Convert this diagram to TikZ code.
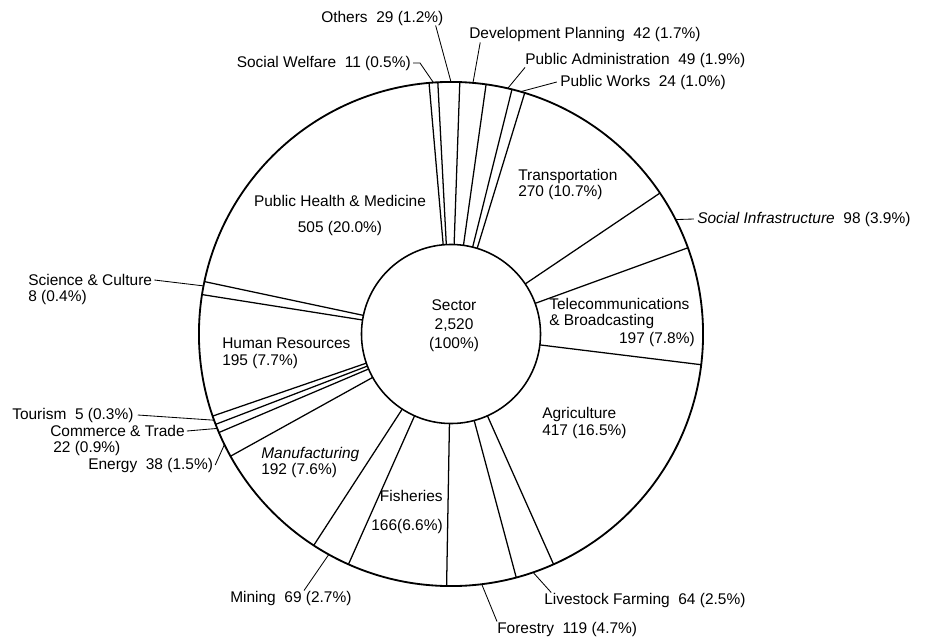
\documentclass[tikz,border=0pt]{standalone}
\usepackage{fontspec}
\setmainfont{Liberation Sans}
\usepackage{tikz}
\tikzstyle{rimCircle} = [circle, draw, line width=1.3pt, minimum size=12.6cm,
inner sep=0pt, outer sep=0pt]
\tikzstyle{hubCircle} = [circle, draw, line width=1.1pt, minimum size=4.475cm,
inner sep=0pt, outer sep=0pt]
\tikzstyle{sectorText} = [inner sep=0pt, anchor=west, align=left, font=\fontsize{11}{12}\selectfont]
\tikzstyle{divider} = [draw, line width=0.9pt]
\tikzstyle{leader} = [draw, line width=0.6pt]

\begin{document}
\begin{tikzpicture}[x=0.025cm, y=-0.025cm]

   \useasboundingbox (0,0) rectangle (927,644);

   \node[rimCircle] (rim) at (451,334) {};
   \node[hubCircle] (hub) at (451,334) {};
   \node[sectorText, anchor=center, align=center, font=\fontsize{11}{13.5}\selectfont] (total) at (454,326) {Sector\\2,520\\(100\%)};

   % Labels, clockwise from the top
   \node[sectorText] (others) at (321,18) {Others~~29 (1.2\%)};
   \node[sectorText] (devPlanning) at (469,35) {Development Planning~~42 (1.7\%)};
   \node[sectorText, anchor=east] (socWelfare) at (411,63) {Social Welfare~~11 (0.5\%)};
   \node[sectorText] (pubAdmin) at (525,60) {Public Administration~~49 (1.9\%)};
   \node[sectorText] (pubWorks) at (560,82) {Public Works~~24 (1.0\%)};
   \node[sectorText] (transport) at (518,184.5) {Transportation\\270 (10.7\%)};
   \node[sectorText] (socInfra) at (697,219) {\textit{Social Infrastructure}~~98 (3.9\%)};
   \node[sectorText] (telecom) at (549,313.5) {Telecommunications\\\& Broadcasting};
   \node[sectorText, anchor=east] (telecomNum) at (695,339) {197 (7.8\%)};
   \node[sectorText] (agri) at (542,423) {Agriculture\\417 (16.5\%)};
   \node[sectorText] (livestock) at (544,600) {Livestock Farming~~64 (2.5\%)};
   \node[sectorText] (forestry) at (497,629) {Forestry~~119 (4.7\%)};
   \node[sectorText, anchor=east, align=right] (fisheries) at (443,512) {Fisheries\\[9pt]166(6.6\%)};
   \node[sectorText] (mining) at (230,598) {Mining~~69 (2.7\%)};
   \node[sectorText] (manuf) at (261,462.5) {\textit{Manufacturing}\\192 (7.6\%)};
   \node[sectorText] (energy) at (88,465) {Energy~~38 (1.5\%)};
   \node[sectorText] (commerce) at (50,431) {Commerce \& Trade};
   \node[sectorText] (commerceNum) at (53,448) {22 (0.9\%)};
   \node[sectorText] (tourism) at (12,415) {Tourism~~5 (0.3\%)};
   \node[sectorText] (humanRes) at (222,353.5) {Human Resources\\195 (7.7\%)};
   \node[sectorText] (sciCulture) at (28,280) {Science \& Culture};
   \node[sectorText] (sciNum) at (28,297) {8 (0.4\%)};
   \node[sectorText, anchor=center, align=center] (pubHealth) at (340,215.5) {Public Health \& Medicine\\[7pt]505 (20.0\%)};

   %% Sector borders
   \path[divider] (hub.95.9) -- (rim.95.9);
   \path[divider] (hub.93.3) -- (rim.93.3);
   \path[divider] (hub.88.3) -- (rim.88.3);
   \path[divider] (hub.82) -- (rim.82);
   \path[divider] (hub.76.2) -- (rim.76.2);
   \path[divider] (hub.73.2) -- (rim.73.2);
   \path[divider] (hub.34.3) -- (rim.34.3);
   \path[divider] (hub.20.6) -- (rim.20.6);
   \path[divider] (hub.-7.8) -- (rim.-7.8);
   \path[divider] (hub.-66.5) -- (rim.-66.5);
   \path[divider] (hub.-75.5) -- (rim.-75.5);
   \path[divider] (hub.-91) -- (rim.-91);
   \path[divider] (hub.-114.6) -- (rim.-114.6);
   \path[divider] (hub.-123.5) -- (rim.-123.5);
   \path[divider] (hub.-151.3) -- (rim.-151.3);
   \path[divider] (hub.-157.3) -- (rim.-157.3);
   \path[divider] (hub.-159.9) -- (rim.-159.9);
   \path[divider] (hub.-161.2) -- (rim.-161.2);
   \path[divider] (hub.171.2) -- (rim.171.2);
   \path[divider] (hub.168.6) -- (rim.168.6);

   % Leaders to the small sectors
   \path[leader] ([xshift=-0.2cm]others.south east) -- (rim.90.8);
   \path[leader] ([xshift=0.28cm]devPlanning.south west) -- (rim.85.2);
   \path[leader] ([xshift=0.05cm]socWelfare.east) -- ++(7,0) -- (rim.94.6);
   \path[leader] (pubAdmin.south west) -- (rim.77.5);
   \path[leader] ([xshift=-0.08cm]pubWorks.west) -- (rim.74.7);
   \path[leader] (rim.27) -- ([xshift=-0.08cm]socInfra.west);
   \path[leader] ([xshift=0.18cm]livestock.north west) -- (rim.-71);
   \path[leader] (forestry.north west) -- (rim.-83);
   \path[leader] ([xshift=1.85cm]mining.north west) -- (rim.-119);
   \path[leader] ([xshift=0.05cm]energy.east) -- (rim.-154);
   \path[leader] ([xshift=0.05cm]commerce.east) -- (rim.-158.6);
   \path[leader] ([xshift=0.1cm]tourism.east) -- (rim.-160.6);
   \path[leader] ([xshift=0.05cm]sciCulture.east) -- (rim.169.5);

\end{tikzpicture}
\end{document}
